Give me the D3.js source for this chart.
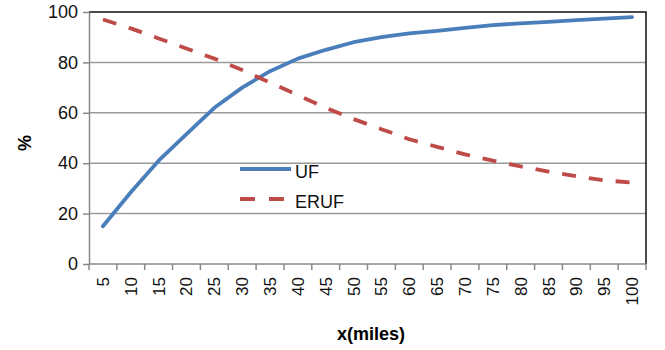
<!DOCTYPE html>
<html>
<head>
<meta charset="utf-8">
<script src="https://cdn.jsdelivr.net/npm/d3@7"></script>
<style>
  body { margin: 0; background: #fff; }
  svg { font-family: Arial, "Liberation Sans", sans-serif; }
</style>
</head>
<body>
<div class="chart"></div>
<script>
// data
const miles = [5, 10, 15, 20, 25, 30, 35, 40, 45, 50, 55, 60, 65, 70, 75, 80, 85, 90, 95, 100];
const uf = [15, 28.5, 41, 51.5, 62, 70, 76.5, 81.5, 85, 88, 90, 91.5, 92.5, 93.7, 94.8, 95.5, 96.1, 96.8, 97.4, 98];
const eruf = [97, 93.5, 89.5, 85.5, 81.5, 77, 72, 67, 62, 57.5, 53.5, 49.5, 46.5, 43.5, 41, 38.7, 36.7, 34.8, 33.2, 32.3];
const yTicks = [0, 20, 40, 60, 80, 100];
const seriesNames = ['UF', 'ERUF'];

const width = 665, height = 350;
const margin = { left: 89, right: 19, top: 12, bottom: 86 };
const w = width - margin.left - margin.right;
const h = height - margin.top - margin.bottom;

const color = d3.scaleOrdinal().domain(seriesNames).range(['#4A7EBB', '#BE4B48']);
const dash = { UF: null, ERUF: '14,13' };

const x = d3.scaleBand().domain(miles).range([0, w]);
const y = d3.scaleLinear().domain([0, 100]).range([h, 0]);

const svg = d3.select('.chart').append('svg')
  .attr('width', width)
  .attr('height', height);

const graph = svg.append('g')
  .attr('transform', `translate(${margin.left}, ${margin.top})`);

// gridlines
graph.append('g')
  .selectAll('line')
  .data(yTicks.filter(d => d > 0 && d < 100))
  .join('line')
  .attr('x1', 0).attr('x2', w)
  .attr('y1', d => y(d)).attr('y2', d => y(d))
  .attr('stroke', '#9a9a9a')
  .attr('stroke-width', 1.5);

// top / right border
graph.append('path')
  .attr('d', `M0,${y(100)}H${w}V${h}`)
  .attr('fill', 'none')
  .attr('stroke', '#111')
  .attr('stroke-width', 1.5);

// y axis
const yAxis = d3.axisLeft(y).tickValues(yTicks).tickSize(6).tickPadding(5).tickSizeOuter(0);
graph.append('g')
  .call(yAxis)
  .call(g => g.select('.domain').attr('stroke', '#888').attr('stroke-width', 1.5))
  .call(g => g.selectAll('.tick line').attr('stroke', '#888').attr('stroke-width', 1.5))
  .call(g => g.selectAll('text').attr('font-size', 18).attr('fill', '#111').attr('font-family', 'Arial, "Liberation Sans", sans-serif'));

// x axis: ticks between categories
const xAxisGroup = graph.append('g')
  .attr('transform', `translate(0, ${h})`);

xAxisGroup.append('line')
  .attr('x1', 0).attr('x2', w)
  .attr('stroke', '#888').attr('stroke-width', 1.5);

xAxisGroup.selectAll('.tk')
  .data(miles.concat(['end']))
  .join('line')
  .attr('class', 'tk')
  .attr('x1', (d, i) => i * x.step()).attr('x2', (d, i) => i * x.step())
  .attr('y1', 0).attr('y2', 6)
  .attr('stroke', '#888').attr('stroke-width', 1.5);

xAxisGroup.selectAll('text')
  .data(miles)
  .join('text')
  .attr('transform', d => `translate(${x(d) + x.bandwidth() / 2 + 6}, 13) rotate(-90)`)
  .attr('text-anchor', 'end')
  .attr('font-size', 17)
  .attr('fill', '#111')
  .text(d => d);

// axis titles
svg.append('text')
  .attr('transform', 'translate(31, 143) rotate(-90)')
  .attr('text-anchor', 'middle')
  .attr('font-size', 18)
  .attr('font-weight', 'bold')
  .text('%');

svg.append('text')
  .attr('x', 371).attr('y', 340)
  .attr('text-anchor', 'middle')
  .attr('font-size', 18)
  .attr('font-weight', 'bold')
  .text('x(miles)');

// lines
const line = d3.line()
  .x((d, i) => x(miles[i]) + x.bandwidth() / 2)
  .y(d => y(d));

const series = [{ name: 'UF', values: uf }, { name: 'ERUF', values: eruf }];

graph.selectAll('.series')
  .data(series)
  .join('path')
  .attr('class', 'series')
  .attr('d', d => line(d.values))
  .attr('fill', 'none')
  .attr('stroke', d => color(d.name))
  .attr('stroke-width', 3.8)
  .attr('stroke-linejoin', 'round')
  .attr('stroke-linecap', d => d.name === 'UF' ? 'round' : 'butt')
  .attr('stroke-dasharray', d => dash[d.name]);

// legend
const legend = svg.append('g')
  .attr('transform', 'translate(240, 169)')
  .selectAll('g')
  .data(seriesNames)
  .join('g')
  .attr('transform', (d, i) => `translate(0, ${i * 30})`);

legend.append('line')
  .attr('x1', 0).attr('x2', 51)
  .attr('stroke', d => color(d))
  .attr('stroke-width', 3.8)
  .attr('stroke-dasharray', d => d === 'ERUF' ? '15,14' : null);

legend.append('text')
  .attr('x', 55)
  .attr('y', 8.5)
  .attr('font-size', 18)
  .attr('fill', '#111')
  .text(d => d);
</script>
</body>
</html>
